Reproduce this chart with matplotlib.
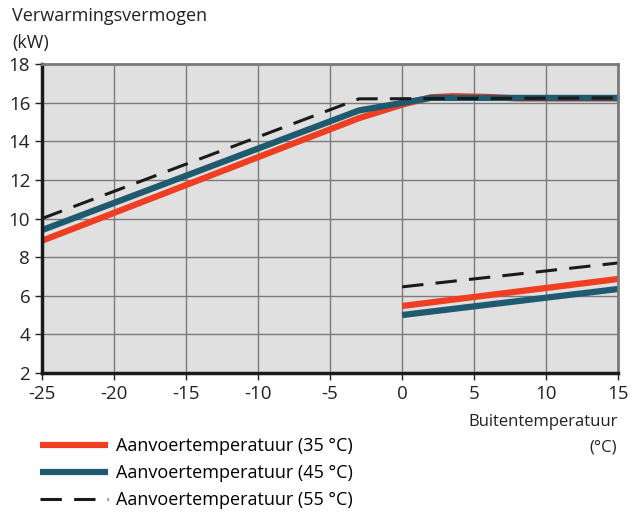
import numpy as np
import matplotlib.pyplot as plt

plt.rcParams['font.family'] = ['Open Sans', 'DejaVu Sans']
plt.rcParams['axes.unicode_minus'] = False

# upper branch (heat pump + extra) per supply temperature
t35 = [-25, -3, 0, 2, 3.5, 6, 8, 15]
p35 = [8.85, 15.2, 15.9, 16.28, 16.34, 16.3, 16.22, 16.22]
t45 = [-25, -3, 2, 15]
p45 = [9.4, 15.6, 16.25, 16.25]
t55 = [-25, -3, 15]
p55 = [10.0, 16.2, 16.25]

# lower branch
low_t = [0, 15]
low35 = [5.47, 6.87]
low45 = [5.0, 6.35]
low55 = [6.46, 7.7]

red = '#f03e23'
teal = '#1f5a6e'
dark = '#1a1a1a'

fig = plt.figure(figsize=(6.41, 5.13), dpi=100)
ax = fig.add_axes([0.0655, 0.273, 0.899, 0.602])
ax.set_facecolor('#e0e0e0')

ax.plot(t35, p35, color=red, lw=4.5, solid_capstyle='butt', label='Aanvoertemperatuur (35 °C)')
ax.plot(t45, p45, color=teal, lw=4.5, solid_capstyle='butt', label='Aanvoertemperatuur (45 °C)')
ax.plot(t55, p55, color=dark, lw=2.2, dashes=(7, 4), label='Aanvoertemperatuur (55 °C)')
ax.plot(low_t, low35, color=red, lw=4.5, solid_capstyle='butt')
ax.plot(low_t, low45, color=teal, lw=4.5, solid_capstyle='butt')
ax.plot(low_t, low55, color=dark, lw=2.2, dashes=(7, 4))

ax.set_xlim(-25, 15)
ax.set_ylim(2, 18)
ax.set_xticks(np.arange(-25, 16, 5))
ax.set_yticks(np.arange(2, 19, 2))
ax.grid(True, color='#7a7a7a', lw=1)
ax.set_axisbelow(True)
ax.tick_params(labelsize=13.5, length=5, width=1, colors='#222222')

for s in ['left', 'bottom']:
    ax.spines[s].set_linewidth(2.5)
    ax.spines[s].set_color('#1a1a1a')
for s in ['top', 'right']:
    ax.spines[s].set_linewidth(2)
    ax.spines[s].set_color('#7a7a7a')

fig.text(0.019, 0.968, 'Verwarmingsvermogen', fontsize=13, va='center', color='#222222')
fig.text(0.019, 0.916, '(kW)', fontsize=13, va='center', color='#222222')
fig.text(0.963, 0.178, 'Buitentemperatuur', fontsize=12, ha='right', va='center', color='#222222')
fig.text(0.963, 0.128, '(°C)', fontsize=12, ha='right', va='center', color='#222222')

leg = fig.legend(loc='upper left', bbox_to_anchor=(0.062, 0.148), frameon=False,
                 fontsize=13, handlelength=3.8, handletextpad=0.45, labelspacing=0.5,
                 borderaxespad=0, borderpad=0)

fig.savefig('out.png', dpi=100)
